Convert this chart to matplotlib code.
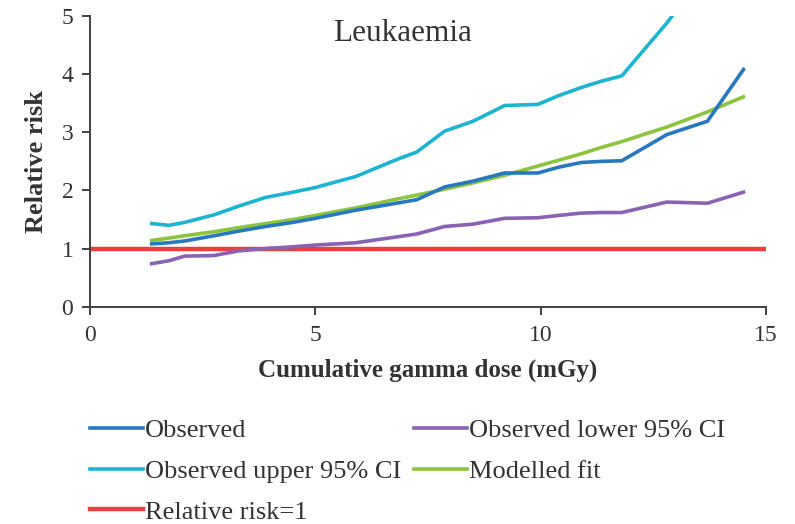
import matplotlib
matplotlib.use("Agg")
import matplotlib.pyplot as plt

dose = [1.37, 1.75, 2.1, 2.75, 3.3, 3.9, 4.5, 5.0, 5.9, 6.8, 7.25, 7.87, 8.5,
        9.2, 9.94, 10.4, 10.9, 11.35, 11.8, 12.8, 13.7, 14.5]
observed = [1.08, 1.10, 1.13, 1.22, 1.30, 1.38, 1.45, 1.52, 1.66, 1.78, 1.84,
            2.06, 2.16, 2.30, 2.30, 2.40, 2.48, 2.50, 2.51, 2.96, 3.19, 4.08]
upper_ci = [1.43, 1.40, 1.45, 1.58, 1.73, 1.88, 1.97, 2.05, 2.24, 2.53, 2.66,
            3.02, 3.19, 3.46, 3.48, 3.63, 3.77, 3.88, 3.97, 4.88, 5.80, 7.20]
lower_ci = [0.74, 0.79, 0.87, 0.88, 0.96, 1.00, 1.03, 1.06, 1.10, 1.20, 1.25,
            1.38, 1.42, 1.52, 1.53, 1.57, 1.61, 1.62, 1.62, 1.80, 1.78, 1.97]
model_fit = [1.14, 1.18, 1.22, 1.29, 1.36, 1.43, 1.50, 1.57, 1.70, 1.85, 1.92,
             2.02, 2.13, 2.26, 2.42, 2.52, 2.63, 2.74, 2.84, 3.09, 3.35, 3.61]
ref_x = [0, 15]
ref_y = [1, 1]

x_ticks = [0, 5, 10, 15]
y_ticks = [0, 1, 2, 3, 4, 5]

plt.rcParams['font.family'] = ['Liberation Serif', 'DejaVu Serif']

fig = plt.figure(figsize=(7.95, 5.24), dpi=100)
ax = fig.add_axes([90/795, 1-306.7/524, 676/795, 290.7/524])

c_obs = '#2878C0'
c_up = '#1DB4D2'
c_low = '#8A62B4'
c_fit = '#8CC43E'
c_ref = '#E5413F'
lw = 2.6

l_obs, = ax.plot(dose, observed, color=c_obs, lw=lw, label='Observed', zorder=4)
l_up, = ax.plot(dose, upper_ci, color=c_up, lw=lw, label='Observed upper 95% CI', zorder=3)
l_ref, = ax.plot(ref_x, ref_y, color=c_ref, lw=3.2, label='Relative risk=1', zorder=2)
l_low, = ax.plot(dose, lower_ci, color=c_low, lw=lw, label='Observed lower 95% CI', zorder=3)
l_fit, = ax.plot(dose, model_fit, color=c_fit, lw=lw, label='Modelled fit', zorder=3)

ax.set_xlim(0, 15)
ax.set_ylim(0, 5)
ax.set_xticks(x_ticks)
ax.set_yticks(y_ticks)
for s in ['top', 'right']:
    ax.spines[s].set_visible(False)
for s in ['left', 'bottom']:
    ax.spines[s].set_color('#404040')
    ax.spines[s].set_linewidth(1.4)
ax.tick_params(axis='both', direction='out', length=6, width=1.4, color='#404040',
               labelsize=17, labelcolor='#333333')
ax.tick_params(axis='y', pad=6)
ax.tick_params(axis='x', pad=7)

ax.set_xlabel('Cumulative gamma dose (mGy)', fontsize=18, fontweight='bold',
              color='#333333', labelpad=9)
ax.set_ylabel('Relative risk', fontsize=19, fontweight='bold', color='#333333',
              labelpad=10)

ax.text(0.463, 0.941, 'Leukaemia', transform=ax.transAxes, ha='center',
        va='center', fontsize=22.5, color='#333333')

handles = [l_obs, l_up, l_ref, l_low, l_fit]
fig.legend(handles=handles, labels=[h.get_label() for h in handles],
           loc='upper left', bbox_to_anchor=(90/795, 1-419/524), ncol=2,
           frameon=False, fontsize=19, handlelength=2.0, handletextpad=0.08,
           columnspacing=0.5, labelspacing=0.65, borderpad=0, borderaxespad=0,
           labelcolor='#333333')

fig.savefig('out.png', dpi=100)
